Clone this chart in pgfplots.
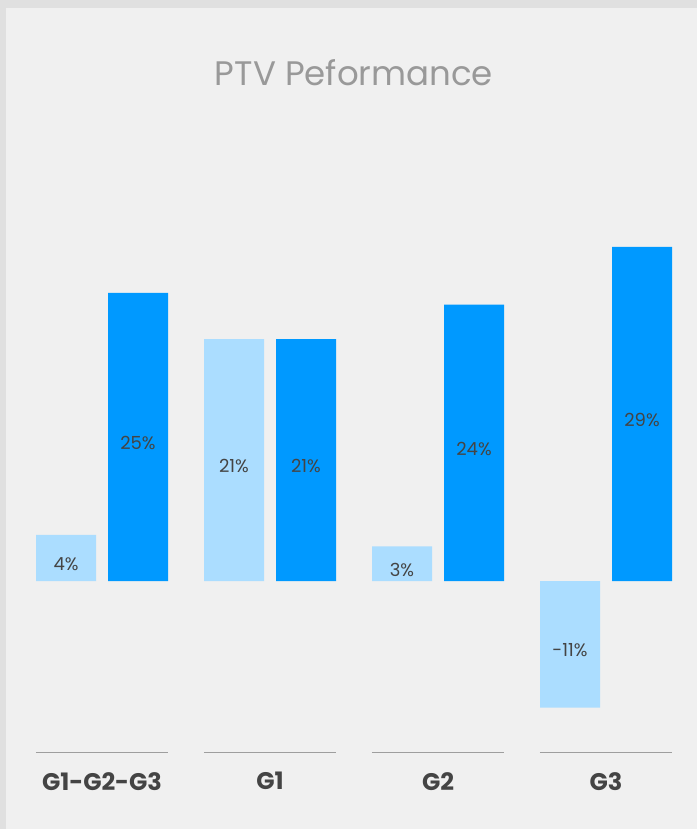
\documentclass[border=0pt]{standalone}
\usepackage{pgfplots}
\pgfplotsset{compat=1.18}
\usepackage{fontspec}
\setmainfont{Poppins}
\definecolor{framegray}{HTML}{E0E0E0}
\definecolor{panel}{HTML}{F0F0F0}
\definecolor{lightbar}{HTML}{ABDDFF}
\definecolor{darkbar}{HTML}{0099FF}
\definecolor{labeltext}{HTML}{444444}
\definecolor{titletext}{HTML}{999999}
\definecolor{rulegray}{HTML}{9E9E9E}

\pgfplotstableread{
x prev curr
0 4 25
1 21 21
2 3 24
3 -11 29
}\ptvdata

\begin{document}
\begin{tikzpicture}
\fill[framegray] (0,0) rectangle (697pt,829pt);
\fill[panel] (6pt,0) rectangle (697pt,821pt);
\begin{axis}[
  at={(18pt,76pt)}, anchor=south west,
  scale only axis, width=672pt, height=575.2pt,
  xmin=-0.5, xmax=3.5, ymin=-14.93, ymax=35,
  axis line style={draw=none},
  major tick style={draw=none},
  ytick=\empty,
  xtick={0,1,2,3},
  xticklabels={G1-G2-G3,G1,G2,G3},
  xticklabel style={font=\fontsize{24}{28}\selectfont\bfseries, text=labeltext, anchor=center, yshift=-24pt},
  title={PTV Peformance},
  title style={at={(0.5,1)}, anchor=center, yshift=99pt, font=\fontsize{34}{40}\selectfont, text=titletext},
  ybar, bar width=60pt,
  clip=false,
  visualization depends on={y \as \rawy},
  nodes near coords={\pgfmathprintnumber[fixed,precision=0,assume math mode=true]{\pgfplotspointmeta}\%},
  every node near coord/.append style={font=\fontsize{18}{21}\selectfont, text=labeltext, anchor=center, shift={(axis direction cs:0,-\rawy/2)}, yshift=-6pt},
]
\addplot[fill=lightbar, draw=none, bar shift=-36pt] table[x=x,y=prev] {\ptvdata};
\addplot[fill=darkbar, draw=none, bar shift=36pt] table[x=x,y=curr] {\ptvdata};
\draw[rulegray, line width=1pt] (axis cs:-0.3929,-14.93) -- (axis cs:0.3929,-14.93);
\draw[rulegray, line width=1pt] (axis cs:0.6071,-14.93) -- (axis cs:1.3929,-14.93);
\draw[rulegray, line width=1pt] (axis cs:1.6071,-14.93) -- (axis cs:2.3929,-14.93);
\draw[rulegray, line width=1pt] (axis cs:2.6071,-14.93) -- (axis cs:3.3929,-14.93);
\end{axis}
\end{tikzpicture}
\end{document}
